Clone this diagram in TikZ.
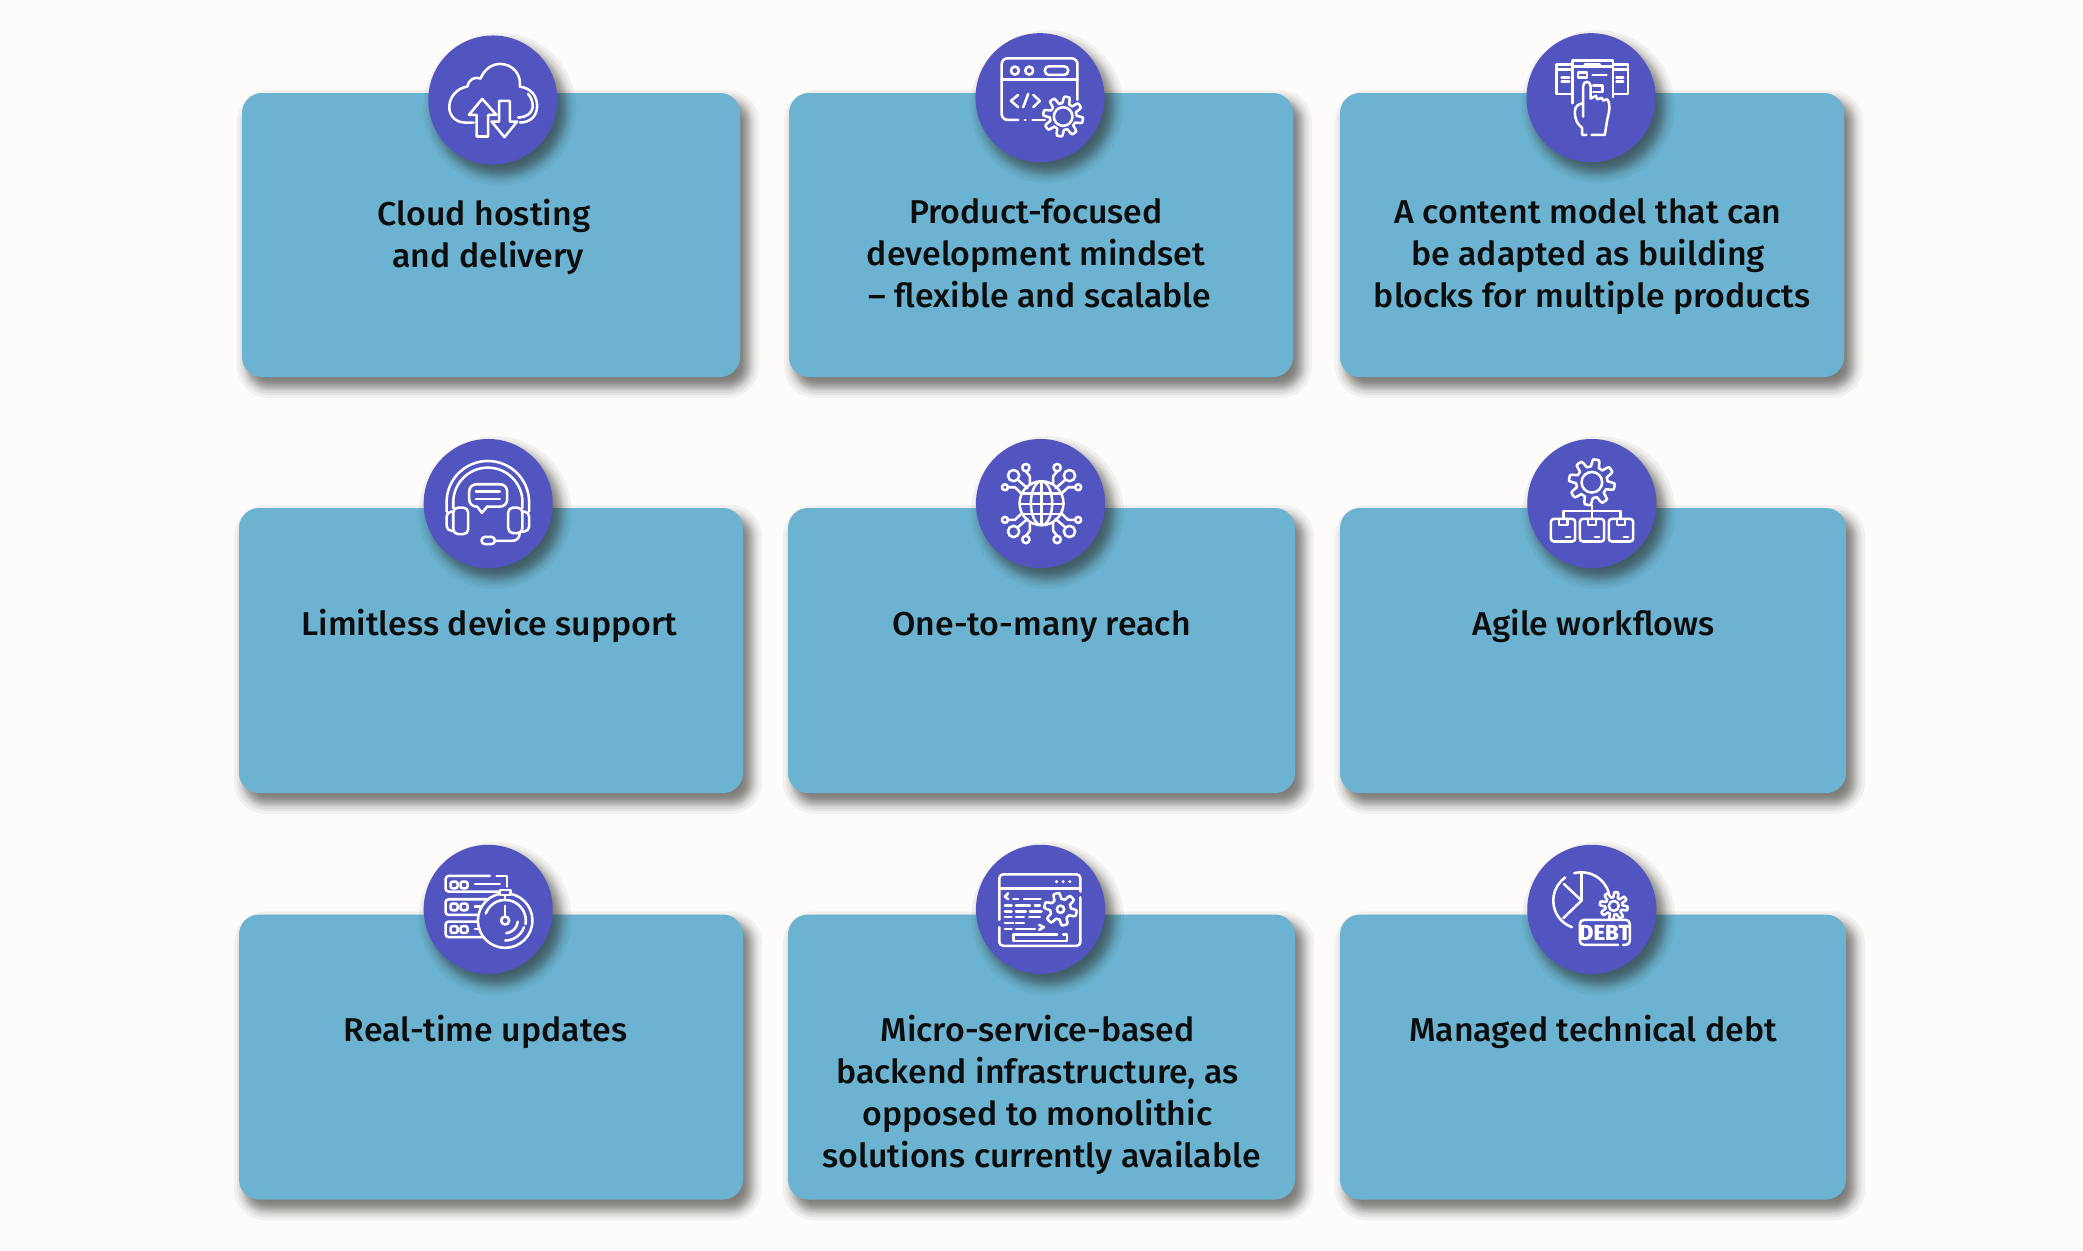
\documentclass[tikz,border=0pt]{standalone}
\usepackage{fontspec}
\setmainfont{Fira Sans}[UprightFont={* Medium}, FakeStretch=1.025]
\usetikzlibrary{calc}
\definecolor{pagetone}{HTML}{FEFCFA}
\definecolor{cardblue}{HTML}{6BB3D1}
\definecolor{badgeblue}{HTML}{5254BF}
\definecolor{shadowtone}{HTML}{2E2C26}
\tikzset{
	cardbox/.style 2 args={fill=cardblue, rounded corners=0.2cm, inner sep=0, minimum width=#1*0.01cm, minimum height=#2*0.01cm},
	badge/.style={fill=badgeblue, circle, inner sep=0, minimum size=1.29cm},
	shadowlayer/.style={fill=shadowtone, fill opacity=0.055},
	cardlabel/.style={anchor=north, align=center, inner sep=0, text=black!95, font=\fontsize{9.4}{11.95}\selectfont, execute at begin node=\rule{0pt}{8pt}},
	iconzone/.style={shift={#1}, x=0.003333cm, y=-0.003333cm},
	iconline/.style={draw=white, line width=0.72pt, line cap=round, line join=round},
	debtmark/.style={inner sep=0, text=white, font=\fontsize{6.2}{7}\selectfont\bfseries}
}
\def\lineshift{\kern2.3pt}
\def\iconarc(#1,#2)(#3:#4:#5){\draw[iconline] ($(#1,#2)+({#5*cos(#3)},{#5*sin(#3)})$) arc (#3:#4:#5);}
\def\iconbox(#1,#2)(#3,#4)[#5]{\draw[iconline, rounded corners=#5] (#1,#2) rectangle (#3,#4);}
\def\icongear(#1,#2)(#3,#4,#5,#6){
	\draw[iconline, fill=badgeblue] plot[sharp cycle, domain=0:357, samples=120] ({#1+(#3+#4*max(-1,min(1,2.2*sin(#5*\x))))*cos(\x)}, {#2+(#3+#4*max(-1,min(1,2.2*sin(#5*\x))))*sin(\x)});
	\draw[iconline] (#1,#2) circle (#6);
}
\begin{document}
\begin{tikzpicture}[x=0.01cm, y=-0.01cm]
	%%%%% PAGE %%%%%
	\fill[pagetone] (0,0) rectangle (2083,1250);
	\useasboundingbox (0,0) rectangle (2083,1250);

	%%%%% CARDS %%%%%
	\foreach \nm/\cx/\cy/\w/\h in {cardCloud/491/235/498/284, cardProduct/1041/235/504/284, cardContent/1592/235/504/284,
		cardDevice/491/650.5/504/285, cardReach/1041.5/650.5/507/285, cardAgile/1593/650.5/506/285,
		cardRealtime/491/1057/504/285, cardMicro/1041.5/1057/507/285, cardDebt/1593/1057/506/285}{
		\foreach \g in {-12,-9,-7,-5,-4,-3,-2,-1,0,1,2,3,4,5,7,9,12}{
			\fill[shadowlayer, rounded corners={(20+\g)*0.2845pt}] (\cx-\w/2+7-\g, \cy-\h/2+9-\g) rectangle (\cx+\w/2+7+\g, \cy+\h/2+9+\g);
		}
		\node (\nm) [cardbox={\w}{\h}] at (\cx,\cy) {};
	}

	%%%%% BADGES %%%%%
	\foreach \nm/\cx/\cy in {badgeCloud/492.8/100, badgeProduct/1040/97.7, badgeContent/1591/97.7,
		badgeDevice/488.2/503.5, badgeReach/1040.5/503.5, badgeAgile/1591.8/503.5,
		badgeRealtime/488.2/909.3, badgeMicro/1040.5/909.3, badgeDebt/1591.8/909.3}{
		\foreach \g in {-12,-9,-7,-5,-4,-3,-2,-1,0,1,2,3,4,5,7,9,12}{
			\fill[shadowlayer] (\cx+7, \cy+9) circle ({64.5+\g});
		}
		\node (\nm) [badge] at (\cx,\cy) {};
	}

	%%%%% LABELS %%%%%
	\node (labelCloud) [cardlabel] at (488, 198) {Cloud hosting\lineshift\\and delivery};
	\node (labelProduct) [cardlabel] at (1040, 198) {Product-focused\lineshift\\development mindset\lineshift\\– flexible and scalable};
	\node (labelContent) [cardlabel] at (1592, 198) {A content model that can\lineshift\\be adapted as building\lineshift\\blocks for multiple products};
	\node (labelDevice) [cardlabel] at (489.5, 606.5) {Limitless device support};
	\node (labelReach) [cardlabel] at (1041.5, 606.5) {One-to-many reach};
	\node (labelAgile) [cardlabel] at (1593.5, 606.5) {Agile workflows};
	\node (labelRealtime) [cardlabel] at (485.5, 1012.5) {Real-time updates};
	\node (labelMicro) [cardlabel] at (1041.5, 1014.5) {Micro-service-based\lineshift\\backend infrastructure, as\lineshift\\opposed to monolithic\lineshift\\solutions currently available};
	\node (labelDebt) [cardlabel] at (1593, 1012.5) {Managed technical debt};

	%%%%% CLOUD ICON %%%%%
	\begin{scope}[iconzone={(400,20)}]
		\draw[iconline] (222,308) -- (195,308) .. controls (165,308) and (148,285) .. (148,262) .. controls (148,232) and (170,205) .. (202,200)
			.. controls (205,180) and (225,168) .. (242,176) .. controls (252,150) and (275,132) .. (300,132) .. controls (340,132) and (365,165) .. (360,200)
			.. controls (395,205) and (412,230) .. (412,258) .. controls (412,290) and (390,308) .. (360,308);
		\draw[iconline] (385,222) .. controls (405,245) and (410,290) .. (355,293);
		\draw[iconline] (247,237) -- (290,285) -- (265,285) -- (265,350) -- (230,350) -- (230,285) -- (207,285) -- cycle;
		\draw[iconline] (298,243) -- (330,243) -- (330,305) -- (352,305) -- (314,352) -- (275,305) -- (298,305) -- cycle;
	\end{scope}

	%%%%% WINDOW ICON %%%%%
	\begin{scope}[iconzone={(950,20)}]
		\draw[iconline, rounded corners=0.06cm] (205,300) -- (155,300) -- (155,115) -- (383,115) -- (383,240);
		\draw[iconline] (155,178) -- (383,178);
		\draw[iconline] (195,152) circle (12);
		\draw[iconline] (238,152) circle (12);
		\iconbox(285,139)(355,165)[0.04cm]
		\draw[iconline] (205,225) -- (183,243) -- (205,262);
		\draw[iconline] (235,222) -- (220,262);
		\draw[iconline] (250,225) -- (270,243) -- (250,262);
		\draw[iconline] (225,300) -- (227,300);
		\draw[iconline] (248,300) -- (285,300);
		\icongear(340,290)(50,10,8,28)
	\end{scope}

	%%%%% PAGES ICON %%%%%
	\begin{scope}[iconzone={(1490,20)}]
		\draw[iconline] (248,250) -- (248,122) -- (370,122) -- (370,232);
		\draw[iconline] (248,140) -- (370,140);
		\draw[iconline] (285,133) -- (330,133);
		\draw[iconline] (248,133) -- (200,133) -- (200,222) -- (248,222);
		\draw[iconline] (200,148) -- (248,148);
		\draw[iconline] (370,133) -- (415,133) -- (415,222) -- (370,222);
		\draw[iconline] (370,148) -- (415,148);
		\draw[iconline] (215,172) -- (238,172);
		\draw[iconline] (215,185) -- (238,185);
		\draw[iconline] (380,172) -- (400,172);
		\draw[iconline] (380,185) -- (400,185);
		\draw[iconline] (265,158) rectangle (292,172);
		\draw[iconline] (308,165) -- (350,165);
		\draw[iconline] (310,196) -- (338,196) -- (338,216) -- (310,216);
		\draw[iconline, fill=badgeblue] (280,290) -- (280,198) .. controls (280,182) and (302,182) .. (302,198) -- (302,236) -- (318,228) -- (322,238) -- (336,234) -- (340,242) -- (352,238)
			.. controls (362,250) and (360,270) .. (352,300) -- (345,345) -- (305,345);
		\draw[iconline] (290,345) -- (277,345) -- (277,325) .. controls (262,312) and (255,300) .. (255,275) .. controls (255,260) and (265,252) .. (280,250);
	\end{scope}

	%%%%% HEADSET ICON %%%%%
	\begin{scope}[iconzone={(400,425)}]
		\draw[iconline] (140,260) -- (140,232) arc (180:360:124) -- (388,260);
		\draw[iconline] (160,250) -- (160,232) arc (180:360:104) -- (368,250);
		\iconbox(160,248)(205,328)[0.05cm]
		\iconbox(325,248)(368,325)[0.05cm]
		\draw[iconline, rounded corners=0.05cm] (160,260) -- (140,260) -- (140,318) -- (160,318);
		\draw[iconline, rounded corners=0.05cm] (368,260) -- (388,260) -- (388,320) -- (368,320);
		\draw[iconline] (360,325) .. controls (358,342) and (350,348) .. (335,348) -- (285,348);
		\iconbox(245,336)(285,358)[0.035cm]
		\draw[iconline, rounded corners=0.07cm] (232,245) -- (208,245) -- (208,178) -- (322,178) -- (322,245) -- (262,245);
		\draw[iconline] (232,245) -- (246,264) -- (262,245);
		\draw[iconline] (228,200) -- (300,200);
		\draw[iconline] (228,222) -- (300,222);
	\end{scope}

	%%%%% GLOBE ICON %%%%%
	\begin{scope}[iconzone={(950,425)}]
		\draw[iconline] (275,235) circle (66);
		\draw[iconline] (275,235) ellipse (32 and 66);
		\draw[iconline] (275,169) -- (275,301);
		\draw[iconline] (213,205) -- (337,205);
		\draw[iconline] (209,238) -- (341,238);
		\draw[iconline] (216,268) -- (334,268);
		\foreach \sx in {-1,1}{
			\foreach \sy in {-1,1}{
				\draw[iconline] ({275+\sx*47},{236+\sy*108}) circle (11);
				\draw[iconline] ({275+\sx*84},{236+\sy*84}) circle (17);
				\draw[iconline] ({275+\sx*110},{236+\sy*49}) circle (9);
				\draw[iconline] ({275+\sx*47},{236+\sy*97}) -- ({275+\sx*35},{236+\sy*82}) -- ({275+\sx*35},{236+\sy*60});
				\draw[iconline] ({275+\sx*72},{236+\sy*72}) -- ({275+\sx*42},{236+\sy*46});
				\draw[iconline] ({275+\sx*101},{236+\sy*49}) -- ({275+\sx*80},{236+\sy*49}) -- ({275+\sx*60},{236+\sy*30});
			}
		}
	\end{scope}

	%%%%% WORKFLOW ICON %%%%%
	\begin{scope}[iconzone={(1490,425)}]
		\icongear(306,172)(58,11,8,31)
		\draw[iconline] (306,241) -- (306,282);
		\draw[iconline] (220,282) -- (220,258) -- (392,258) -- (392,282);
		\foreach \bx in {183,270,357}{
			\iconbox(\bx,282)(\bx+73,350)[0.03cm]
			\draw[iconline] (\bx+24,282) -- (\bx+24,300) -- (\bx+49,300) -- (\bx+49,282);
			\draw[iconline] (\bx+45,336) -- (\bx+58,336);
		}
	\end{scope}

	%%%%% SERVER ICON %%%%%
	\begin{scope}[iconzone={(400,830)}]
		\draw[iconline, rounded corners=0.03cm] (270,138) -- (137,138) -- (137,185) -- (300,185);
		\draw[iconline] (290,138) -- (322,138) -- (322,170);
		\draw[iconline, rounded corners=0.03cm] (265,208) -- (137,208) -- (137,255) -- (240,255);
		\draw[iconline, rounded corners=0.03cm] (235,275) -- (137,275) -- (137,322) -- (285,322);
		\foreach \ry in {155,221,289}{
			\iconbox(152,\ry)(173,\ry+20)[0.02cm]
			\iconbox(182,\ry)(203,\ry+20)[0.02cm]
		}
		\draw[iconline] (225,162) -- (300,162);
		\draw[iconline] (225,230) -- (258,230);
		\draw[iconline] (225,298) -- (250,298);
		\draw[iconline, fill=badgeblue] (316,272) circle (82);
		\iconarc(316,272)(200:370:62)
		\iconarc(316,272)(20:90:60)
		\iconarc(316,272)(5:85:38)
		\draw[iconline] (316,228) -- (316,260);
		\draw[iconline] (316,272) circle (12);
		\draw[iconline] (316,190) -- (316,206);
		\draw[iconline, fill=badgeblue] (300,180) rectangle (332,195);
	\end{scope}

	%%%%% CODE ICON %%%%%
	\begin{scope}[iconzone={(950,830)}]
		\draw[iconline, rounded corners=0.04cm] (392,185) -- (392,133) -- (148,133) -- (148,270);
		\draw[iconline, rounded corners=0.04cm] (148,292) -- (148,348) -- (392,348) -- (392,202);
		\draw[iconline] (148,175) -- (392,175);
		\foreach \dx in {320,340,360}{
			\fill[white] (\dx,155) circle (5);
		}
		\draw[iconline] (175,190) -- (165,200) -- (175,208);
		\draw[iconline] (190,207) -- (205,207);
		\draw[iconline] (222,207) -- (272,207);
		\draw[iconline] (165,226) -- (185,226);
		\draw[iconline] (198,226) -- (240,226);
		\draw[iconline] (255,226) -- (270,226);
		\draw[iconline] (165,244) -- (185,244);
		\draw[iconline] (198,244) -- (228,244);
		\draw[iconline] (240,244) -- (275,244);
		\draw[iconline] (165,262) -- (185,262);
		\draw[iconline] (198,262) -- (222,262);
		\draw[iconline] (238,262) -- (270,262);
		\draw[iconline] (165,280) -- (190,280);
		\draw[iconline] (198,280) -- (222,280);
		\draw[iconline] (165,298) -- (185,298);
		\draw[iconline] (198,298) -- (255,298);
		\draw[iconline] (268,285) -- (282,292) -- (268,300);
		\icongear(332,238)(40,9,6,11)
		\draw[iconline] (322,314) -- (190,314) -- (190,333) -- (352,333) -- (352,314) -- (340,314);
	\end{scope}

	%%%%% DEBT ICON %%%%%
	\begin{scope}[iconzone={(1490,830)}]
		\iconarc(275,212)(255:345:85)
		\iconarc(275,212)(235:110:85)
		\draw[iconline] (275,127) -- (275,212);
		\draw[iconline] (222,162) -- (275,212) -- (220,265);
		\icongear(372,228)(34,8,8,15)
		\draw[iconline, rounded corners=0.04cm] (385,345) -- (270,345) -- (270,270) -- (420,270) -- (420,345) -- (400,345);
		\node (debtWord) [debtmark] at (345,308) {DEBT};
	\end{scope}
\end{tikzpicture}
\end{document}
